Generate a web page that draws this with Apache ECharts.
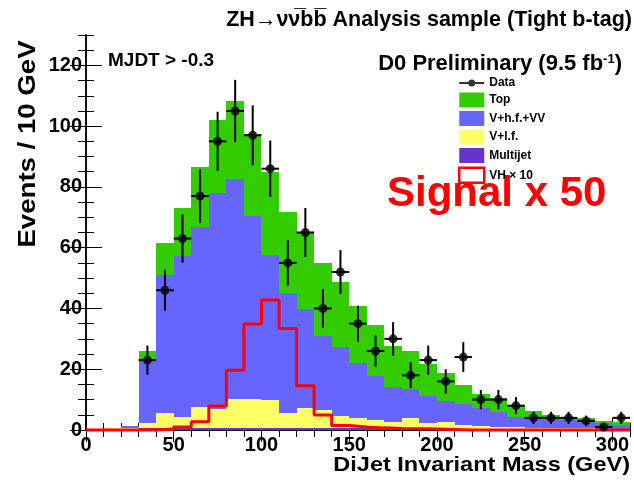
<!DOCTYPE html>
<html>
<head>
<meta charset="utf-8">
<script src="https://cdn.jsdelivr.net/npm/echarts@6/dist/echarts.min.js"></script>
<style>
    html, body { margin: 0; padding: 0; background: #fff; }
    #chart { width: 634px; height: 480px; }
</style>
</head>
<body>
<div id="chart"></div>
<script>
'use strict';

// 10 GeV bins, 0 - 310 GeV
const binEdges = [0, 10, 20, 30, 40, 50, 60, 70, 80, 90, 100, 110, 120, 130, 140, 150,
    160, 170, 180, 190, 200, 210, 220, 230, 240, 250, 260, 270, 280, 290, 300, 310];

// backgrounds, bottom of the stack first
const multijet = [0.2, 0.3, 0.4, 0.6, 0.7, 0.7, 0.8, 0.8, 0.8, 0.8, 0.8, 0.8, 0.8, 0.8, 0.7, 0.7,
    0.6, 0.6, 0.5, 0.5, 0.5, 0.4, 0.4, 0.4, 0.3, 0.3, 0.3, 0.3, 0.3, 0.3, 0.3];
const vlf = [0.1, 0.2, 0.2, 1.6, 5.0, 3.7, 6.7, 6.0, 9.4, 9.3, 9.1, 4.7, 6.3, 5.7, 4.0, 3.1,
    2.6, 2.0, 3.3, 1.7, 2.0, 1.1, 0.9, 0.6, 0.6, 0.4, 0.3, 0.2, 0.2, 0.1, 0.1];
const vhf = [0.0, 0.1, 0.6, 21.0, 45.3, 52.9, 59.4, 71.1, 72.3, 60.4, 47.7, 39.7, 32.6, 24.5, 22.5, 18.4,
    14.7, 11.7, 9.7, 8.9, 7.1, 7.0, 5.9, 4.8, 3.5, 3.3, 2.9, 2.7, 2.3, 1.8, 1.3];
const topBkg = [0.0, 0.0, 0.1, 2.9, 10.7, 15.8, 19.5, 24.1, 25.7, 26.8, 27.2, 26.6, 25.0, 24.1, 21.6, 18.7,
    16.6, 13.2, 12.5, 10.7, 9.0, 6.3, 4.6, 4.6, 3.8, 2.4, 1.4, 1.2, 1.0, 0.8, 1.0];

// signal (outline only)
const signal = [0, 0, 0, 0, 0.3, 1.0, 2.7, 7.9, 19.7, 34.9, 42.8, 33.4, 14.6, 4.9, 1.5, 1.0,
    0.7, 0.5, 0.4, 0.3, 0.2, 0, 0, 0, 0, 0, 0, 0, 0, 0, 0];

// data points (bin centres)
const dataCenters = [35, 45, 55, 65, 75, 85, 95, 105, 115, 125, 135, 145, 155, 165,
    175, 185, 195, 205, 215, 225, 235, 245, 255, 265, 275, 285, 295, 305];
const dataCounts = [23, 46, 63, 77, 95, 105, 97, 86, 55, 65, 40, 52, 35, 26,
    30, 18, 23, 16, 24, 10, 10, 8, 4, 4, 4, 3, 1, 4];
const dataHalfBin = 5;

const xMajorTicks = [0, 50, 100, 150, 200, 250, 300];
const xMinorTicks = binEdges;
const yMajorTicks = [0, 20, 40, 60, 80, 100, 120];
const yMinorTicks = [0, 5, 10, 15, 20, 25, 30, 35, 40, 45, 50, 55, 60, 65, 70, 75, 80, 85, 90, 95,
    100, 105, 110, 115, 120, 125, 130];

const font = "'Liberation Sans', Arial, Helvetica, sans-serif";
const colors = {
    top: '#33cc00',
    vhf: '#6666ff',
    vlf: '#ffff66',
    multijet: '#6633cc',
    signal: '#ff0000',
};

// cumulative stack heights
const cumulate = (layers) => {
    const out = [];
    let run = binEdges.slice(0, -1).map(() => 0);
    layers.forEach((l) => {
        run = run.map((v, i) => v + l[i]);
        out.push(run);
    });
    return out;
};
const [cumMJ, cumVLF, cumVHF, cumTop] = cumulate([multijet, vlf, vhf, topBkg]);

const histLayer = (name, cum, color) => ({
    type: 'custom',
    name,
    coordinateSystem: 'cartesian2d',
    itemStyle: { color },
    silent: true,
    data: cum.map((v, i) => [binEdges[i], binEdges[i + 1], v]),
    encode: { x: [0, 1], y: 2 },
    renderItem: (params, api) => {
        const p0 = api.coord([api.value(0), api.value(2)]);
        const p1 = api.coord([api.value(1), 0]);
        const x0 = Math.round(p0[0]);
        const x1 = Math.round(p1[0]);
        const y0 = Math.round(p0[1]);
        const y1 = Math.round(p1[1]);
        return {
            type: 'rect',
            shape: { x: x0, y: y0, width: x1 - x0, height: y1 - y0 },
            style: { fill: color },
        };
    },
});

const tickAxis = (opts) => Object.assign({
    type: 'value',
    splitLine: { show: false },
    axisLine: { show: false },
    axisLabel: { show: false },
}, opts);

const axisLineStyle = { show: true, lineStyle: { color: '#000', width: 1.5 } };
const tickLine = { color: '#000', width: 1 };

const xAxes = [
    tickAxis({
        position: 'bottom', min: 0, max: 310,
        axisLine: axisLineStyle,
        axisTick: { show: true, inside: true, length: 12, lineStyle: tickLine, customValues: xMajorTicks },
        axisLabel: {
            show: true, customValues: xMajorTicks, margin: 5,
            fontSize: 20, fontWeight: 'bold', fontFamily: font, color: '#000',
        },
    }),
    tickAxis({
        position: 'bottom', min: 0, max: 310,
        axisTick: { show: true, inside: true, length: 7, lineStyle: tickLine, customValues: xMinorTicks },
    }),
    tickAxis({
        position: 'top', min: 0, max: 310,
        axisLine: axisLineStyle,
        axisTick: { show: true, inside: true, length: 12, lineStyle: tickLine, customValues: xMajorTicks },
    }),
    tickAxis({
        position: 'top', min: 0, max: 310,
        axisTick: { show: true, inside: true, length: 7, lineStyle: tickLine, customValues: xMinorTicks },
    }),
];

const yAxes = [
    tickAxis({
        position: 'left', min: 0, max: 130,
        axisLine: axisLineStyle,
        axisTick: { show: true, inside: true, length: 16, lineStyle: tickLine, customValues: yMajorTicks },
        axisLabel: {
            show: true, customValues: yMajorTicks, margin: 4,
            fontSize: 20, fontWeight: 'bold', fontFamily: font, color: '#000',
        },
    }),
    tickAxis({
        position: 'left', min: 0, max: 130,
        axisTick: { show: true, inside: true, length: 8, lineStyle: tickLine, customValues: yMinorTicks },
    }),
    tickAxis({
        position: 'right', min: 0, max: 130,
        axisLine: axisLineStyle,
        axisTick: { show: true, inside: true, length: 16, lineStyle: tickLine, customValues: yMajorTicks },
    }),
    tickAxis({
        position: 'right', min: 0, max: 130,
        axisTick: { show: true, inside: true, length: 8, lineStyle: tickLine, customValues: yMinorTicks },
    }),
];

const series = [
    histLayer('Top', cumTop, colors.top),
    histLayer('V+h.f.+VV', cumVHF, colors.vhf),
    histLayer('V+l.f.', cumVLF, colors.vlf),
    histLayer('Multijet', cumMJ, colors.multijet),
    {
        type: 'line',
        name: 'VH \u00d7 10',
        step: 'end',
        symbol: 'none',
        clip: false,
        silent: true,
        z: 3,
        itemStyle: { color: colors.signal },
        lineStyle: { color: colors.signal, width: 3 },
        data: binEdges.map((e, i) => [e, signal[Math.min(i, signal.length - 1)]]),
    },
    {
        type: 'custom',
        name: 'DataErr',
        silent: true,
        z: 4,
        data: dataCenters.map((c, i) => [c, dataCounts[i]]),
        renderItem: (params, api) => {
            const x = api.value(0);
            const n = api.value(1);
            const err = Math.sqrt(n);
            const hi = api.coord([x, n + err]);
            const lo = api.coord([x, Math.max(0, n - err)]);
            const l = api.coord([x - dataHalfBin, n]);
            const r = api.coord([x + dataHalfBin, n]);
            return {
                type: 'group',
                children: [
                    { type: 'line', shape: { x1: hi[0], y1: hi[1], x2: lo[0], y2: lo[1] }, style: { stroke: '#000', lineWidth: 2 } },
                    { type: 'line', shape: { x1: l[0], y1: l[1], x2: r[0], y2: r[1] }, style: { stroke: '#000', lineWidth: 2 } },
                ],
            };
        },
    },
    {
        type: 'scatter',
        name: 'Data',
        symbol: 'circle',
        symbolSize: 9,
        silent: true,
        z: 5,
        itemStyle: { color: '#000' },
        data: dataCenters.map((c, i) => [c, dataCounts[i]]),
    },
];

const legendText = { fontSize: 12, fontWeight: 'bold', fontFamily: font, color: '#000' };

const option = {
    animation: false,
    backgroundColor: '#fff',
    grid: { left: 86, right: 4, top: 35, bottom: 50 },
    xAxis: xAxes,
    yAxis: yAxes,
    legend: {
        orient: 'vertical',
        left: 453,
        top: 72,
        itemWidth: 25,
        itemHeight: 15,
        itemGap: 3.5,
        selectedMode: false,
        textStyle: legendText,
        data: [
            {
                name: 'Data',
                icon: 'path://M0,6.5L25,6.5L25,8.5L0,8.5Z M9,7.5A3.5,3.5,0,1,1,16,7.5A3.5,3.5,0,1,1,9,7.5Z',
                itemStyle: { color: '#000' },
            },
            { name: 'Top', icon: 'rect', itemStyle: { color: colors.top } },
            { name: 'V+h.f.+VV', icon: 'rect', itemStyle: { color: colors.vhf } },
            { name: 'V+l.f.', icon: 'rect', itemStyle: { color: colors.vlf } },
            { name: 'Multijet', icon: 'rect', itemStyle: { color: colors.multijet } },
            {
                name: 'VH \u00d7 10',
                icon: 'rect',
                itemStyle: { color: '#fff', borderColor: colors.signal, borderWidth: 2.5 },
            },
        ],
    },
    graphic: [
        {
            type: 'text', right: 2, top: 9,
            style: {
                text: 'ZH\u2192\u03bd\u03bd\u0305bb\u0305 Analysis sample (Tight b-tag)',
                font: 'bold 21.5px ' + font, fill: '#000',
            },
        },
        {
            type: 'text', left: 108, top: 51,
            style: { text: 'MJDT > -0.3', font: 'bold 19px ' + font, fill: '#000' },
        },
        {
            type: 'text', right: 12, top: 53,
            style: {
                text: '{a|D0 Preliminary (9.5 fb}{s|-1}{a|)}',
                rich: {
                    a: { font: 'bold 22px ' + font, fill: '#000', verticalAlign: 'bottom' },
                    s: { font: 'bold 13px ' + font, fill: '#000', verticalAlign: 'top' },
                },
            },
        },
        {
            type: 'text', left: 387, top: 173,
            style: { text: 'Signal x 50', font: 'bold 42px ' + font, fill: '#ff0000' },
        },
        {
            type: 'text', x: 630, y: 455, scaleX: 1.12,
            style: {
                text: 'DiJet Invariant Mass (GeV)', font: 'bold 21px ' + font, fill: '#000',
                align: 'right', verticalAlign: 'top',
            },
        },
        {
            type: 'text', x: 29, y: 144, rotation: Math.PI / 2, scaleX: 1.2,
            style: {
                text: 'Events / 10 GeV', font: 'bold 23px ' + font, fill: '#000',
                align: 'center', verticalAlign: 'middle',
            },
        },
    ],
    series,
};

document.addEventListener('DOMContentLoaded', () => {
    const chart = echarts.init(document.getElementById('chart'));
    chart.setOption(option);
});
</script>
</body>
</html>
